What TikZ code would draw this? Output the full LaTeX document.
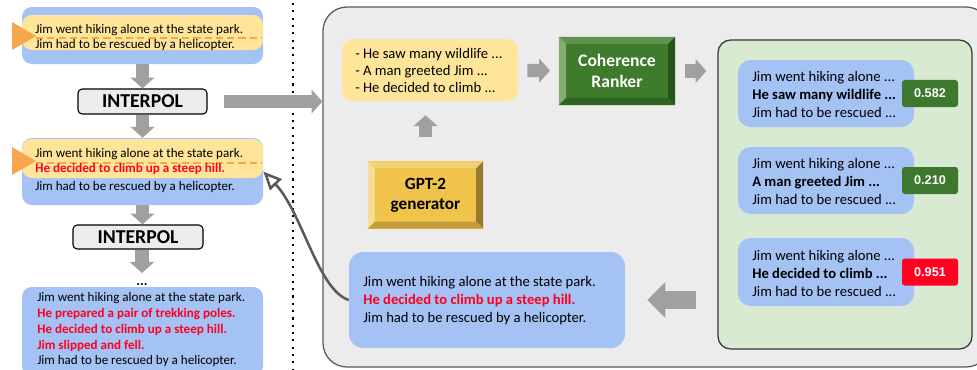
\documentclass[tikz,border=0pt]{standalone}
\usepackage{fontspec}
\setmainfont{Carlito}
\newfontfamily\scorefont{Liberation Sans}
\usetikzlibrary{arrows.meta,fit}

\definecolor{boxblue}{RGB}{164,194,244}
\definecolor{boxyellow}{RGB}{255,229,153}
\definecolor{markorange}{RGB}{247,167,75}
\definecolor{arrgray}{RGB}{160,160,160}
\definecolor{panelgray}{RGB}{236,236,236}
\definecolor{panelline}{RGB}{90,90,90}
\definecolor{rankfill}{RGB}{217,234,211}
\definecolor{rankline}{RGB}{55,55,55}
\definecolor{scoregreen}{RGB}{62,120,46}
\definecolor{scorered}{RGB}{255,0,34}
\definecolor{sentred}{RGB}{255,0,30}
\definecolor{rankmid}{RGB}{62,123,45}
\definecolor{ranktop}{RGB}{98,147,78}
\definecolor{rankleft}{RGB}{133,172,115}
\definecolor{rankright}{RGB}{38,82,28}
\definecolor{rankbottom}{RGB}{48,100,35}
\definecolor{gptmid}{RGB}{240,195,75}
\definecolor{gpttop}{RGB}{243,208,118}
\definecolor{gptleft}{RGB}{246,220,150}
\definecolor{gptright}{RGB}{152,122,45}
\definecolor{gptbottom}{RGB}{196,156,58}

\newcommand\redsent[1]{{\color{sentred}\bfseries #1}}
% node, top, left, right, bottom
\newcommand\bevelsides[5]{%
  \fill[#2] (#1.north west) -- (#1.north east) -- ([shift={(-7,7)}]#1.north east) -- ([shift={(7,7)}]#1.north west) -- cycle;
  \fill[#3] (#1.north west) -- ([shift={(7,7)}]#1.north west) -- ([shift={(7,-7)}]#1.south west) -- (#1.south west) -- cycle;
  \fill[#4] (#1.north east) -- ([shift={(-7,7)}]#1.north east) -- ([shift={(-7,-7)}]#1.south east) -- (#1.south east) -- cycle;
  \fill[#5] (#1.south west) -- ([shift={(7,-7)}]#1.south west) -- ([shift={(-7,-7)}]#1.south east) -- (#1.south east) -- cycle;
}

\tikzset{
  lefttxt/.style={anchor=west, align=left, inner sep=0pt, font=\fontsize{9.3}{10.8}\selectfont},
  paneltxt/.style={anchor=west, align=left, inner sep=0pt, font=\fontsize{10.4}{12.8}\selectfont},
  bluebox/.style={fill=boxblue, inner sep=0pt, rounded corners=7pt},
  yellowbox/.style={fill=boxyellow, inner sep=0pt, rounded corners=7pt},
  interp/.style={draw, line width=0.8pt, fill=panelgray, rounded corners=3pt, inner sep=0pt,
    font=\bfseries\fontsize{14}{14}\selectfont},
  cutline/.style={draw=markorange, line width=1pt, dash pattern=on 5pt off 3pt},
  garrow/.style={draw=arrgray, line width=0.33cm, -{Triangle[length=0.27cm, width=0.6cm, line width=0pt]}},
  bigarrow/.style={draw=arrgray, line width=0.45cm, -{Triangle[length=0.45cm, width=0.9cm, line width=0pt]}},
  panel/.style={draw=panelline, line width=0.9pt, fill=panelgray, rounded corners=0.6cm, inner sep=0pt},
  bevel/.style={inner sep=0pt, outer sep=0pt, align=center, font=\bfseries\fontsize{12.5}{15}\selectfont},
  rankbox/.style={draw=rankline, line width=0.9pt, fill=rankfill, rounded corners=9pt, inner sep=0pt},
  scoretag/.style={rounded corners=2pt, inner sep=0pt, minimum width=1.4cm, minimum height=0.675cm,
    text=white, font=\scorefont\bfseries\fontsize{9}{9}\selectfont},
  backarrow/.style={draw=panelline, line width=1.8pt, -{Triangle[open, length=0.46cm, width=0.4cm]}},
  sepline/.style={line width=1.5pt, dash pattern=on 1.5pt off 3.7pt},
}

\begin{document}
\begin{tikzpicture}[x=0.025cm,y=-0.025cm]
  \path[use as bounding box, clip] (0,0) rectangle (977,369);

  % left column
  \node[bluebox, fit={(22,7) (263,64)}] (cue1) {};
  \node[yellowbox, fit={(22,15) (263,50)}] (cue1y) {};
  \draw[cutline] (36,38) -- (262,38);
  \fill[markorange] (12,22) -- (36,36) -- (12,50) -- cycle;
  \node[lefttxt] (cue1t) at (35,37.5) {Jim went hiking alone at the state park.\\Jim had to be rescued by a helicopter.};

  \node[interp, minimum width=3.225cm, minimum height=0.625cm] (interp1) at (142.5,101.5) {INTERPOL};

  \node[bluebox, fit={(22,138) (263,205)}] (cue2) {};
  \node[yellowbox, fit={(22,139) (263,178)}] (cue2y) {};
  \draw[cutline] (36,163) -- (262,163);
  \fill[markorange] (12,147) -- (36,161) -- (12,175) -- cycle;
  \node[lefttxt] (cue2t) at (35,161.5) {Jim went hiking alone at the state park.\\\redsent{He decided to climb up a steep hill.}};
  \node[lefttxt] (cue2b) at (35,187) {Jim had to be rescued by a helicopter.};

  \node[interp, minimum width=3.25cm, minimum height=0.6cm] (interp2) at (138,237) {INTERPOL};
  \node[anchor=base, inner sep=0pt, font=\bfseries] (dots) at (142,285) {...};
  \coordinate (dotstip) at (142,273);

  \node[bluebox, fit={(22,287) (263,376)}] (cue3) {};
  \node[lefttxt, font=\fontsize{9.3}{11.2}\selectfont] (cue3t) at (37,330) {Jim went hiking alone at the state park.\\
    \redsent{He prepared a pair of trekking poles.}\\
    \redsent{He decided to climb up a steep hill.}\\
    \redsent{Jim slipped and fell.}\\
    Jim had to be rescued by a helicopter.};

  \draw[garrow] (cue1) -- (interp1);
  \draw[garrow] (interp1) -- (cue2);
  \draw[garrow] (cue2) -- (cue2 |- interp2.north);
  \draw[garrow] (interp2.south -| dotstip) -- (dotstip);

  \draw[sepline] (293,3) -- (293,369);

  % main panel
  \node[panel, fit={(323,7) (990,367)}] (panel) {};
  \draw[garrow, shorten <=0.4cm] (interp1) -- (interp1 -| panel.west);

  \node[yellowbox, rounded corners=8pt, fit={(342,39) (518,101)}] (cands) {};
  \node[paneltxt, font=\fontsize{10.4}{12.4}\selectfont] (candst) at (355,70.5) {- He saw many wildlife ...\\- A man greeted Jim ...\\- He decided to climb ...};

  \node[bevel, fill=rankmid, text=white, minimum width=2.9cm, minimum height=1.7cm] (ranker) at (617,71) {Coherence\\Ranker};
  \bevelsides{ranker}{ranktop}{rankleft}{rankright}{rankbottom}

  \node[bevel, fill=gptmid, minimum width=2.875cm, minimum height=1.675cm, font=\bfseries\fontsize{12.2}{14}\selectfont] (gpt) at (425.5,195) {GPT-2\\generator};
  \bevelsides{gpt}{gpttop}{gptleft}{gptright}{gptbottom}

  \node[bluebox, rounded corners=10pt, fit={(349,252) (625,348)}] (merged) {};
  \node[paneltxt] (mergedt) at (363,301) {Jim went hiking alone at the state park.\\\redsent{He decided to climb up a steep hill.}\\Jim had to be rescued by a helicopter.};

  % ranked candidates
  \node[rankbox, fit={(718,40) (972,349)}] (scores) {};
  \node[bluebox, rounded corners=9pt, fit={(738,60) (914,127)}] (cand1) {};
  \node[bluebox, rounded corners=9pt, fit={(738,147) (914,214)}] (cand2) {};
  \node[bluebox, rounded corners=9pt, fit={(738,238) (914,306)}] (cand3) {};
  \node[paneltxt] (cand1t) at (752,94.5) {Jim went hiking alone ...\\\textbf{He saw many wildlife ...}\\Jim had to be rescued ...};
  \node[paneltxt] (cand2t) at (752,181) {Jim went hiking alone ...\\\textbf{A man greeted Jim ...}\\Jim had to be rescued ...};
  \node[paneltxt] (cand3t) at (752,273) {Jim went hiking alone ...\\\textbf{He decided to climb ...}\\Jim had to be rescued ...};
  \node[scoretag, fill=scoregreen] (score1) at (930,93.5) {0.582};
  \node[scoretag, fill=scoregreen] (score2) at (930,180.5) {0.210};
  \node[scoretag, fill=scorered] (score3) at (930,272) {0.951};

  \draw[garrow, shorten <=0.6cm, shorten >=0.35cm] (gpt.north) -- (gpt.north |- cands.south);
  \draw[garrow, shorten <=0.225cm, shorten >=0.225cm] (cands) -- (ranker);
  \draw[garrow, shorten <=0.25cm, shorten >=0.275cm] (ranker) -- (ranker -| scores.west);
  \draw[bigarrow, shorten <=0.525cm, shorten >=0.55cm] (scores.west |- merged) -- (merged);

  \draw[backarrow] (merged.west) .. controls (318,290) and (302,212) .. (cue2.east);
\end{tikzpicture}
\end{document}
